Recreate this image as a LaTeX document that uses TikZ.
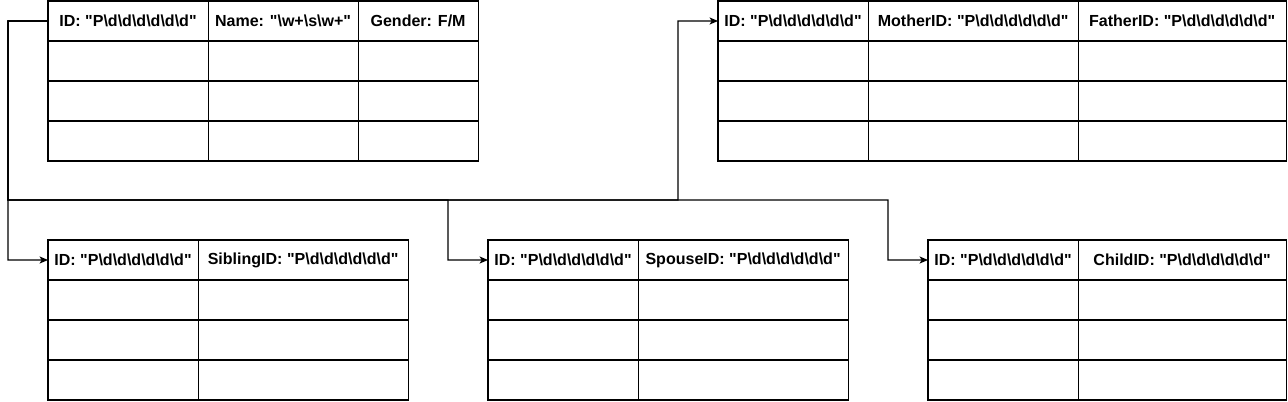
\documentclass[tikz,border=0pt]{standalone}
\usepackage{fontspec}
\setmainfont{Liberation Sans}
\usetikzlibrary{positioning,arrows.meta}

% Regex patterns used in the headers
\newcommand{\bs}{\textbackslash}
\newcommand{\dq}{\textquotedbl}
\newcommand{\regexid}{\dq P\bs d\bs d\bs d\bs d\bs d\bs d\dq}

\begin{document}
\begin{tikzpicture}[x=0.025cm,y=-0.025cm,line width=0.75pt,
    cell/.style={draw,outer sep=0pt,inner sep=0pt,minimum height=1cm,
        anchor=north west,font=\bfseries\fontsize{11.4}{13}\selectfont},
    link/.style={-{Stealth[length=6pt,width=5pt,inset=1.5pt]}}
]
\useasboundingbox (0,0) rectangle (1288,401);

% Person table
\node[cell,minimum width=4cm] (p-id) at (48,1) {ID: \regexid};
\node[cell,minimum width=3.75cm,right=0pt of p-id] (p-name) {Name: \dq\bs w+\bs s\bs w+\dq};
\node[cell,minimum width=3cm,right=0pt of p-name] (p-gender) {Gender: F/M};
\foreach \r in {1,2,3}{
    \node[cell,minimum width=4cm] (p-id-\r) at (48,1+40*\r) {};
    \node[cell,minimum width=3.75cm,right=0pt of p-id-\r] (p-name-\r) {};
    \node[cell,minimum width=3cm,right=0pt of p-name-\r] (p-gender-\r) {};
}

% Parents table
\node[cell,minimum width=3.75cm] (pa-id) at (718,1) {ID: \regexid};
\node[cell,minimum width=5.25cm,right=0pt of pa-id] (pa-mother) {MotherID: \regexid};
\node[cell,minimum width=5.2cm,right=0pt of pa-mother] (pa-father) {FatherID: \regexid};
\foreach \r in {1,2,3}{
    \node[cell,minimum width=3.75cm] (pa-id-\r) at (718,1+40*\r) {};
    \node[cell,minimum width=5.25cm,right=0pt of pa-id-\r] (pa-mother-\r) {};
    \node[cell,minimum width=5.2cm,right=0pt of pa-mother-\r] (pa-father-\r) {};
}

% Sibling, spouse and child tables
\foreach \t/\x/\w/\lbl in {s/48/5.25/SiblingID,sp/488/5.25/SpouseID,c/928/5.2/ChildID}{
    \node[cell,minimum width=3.75cm] (\t-id) at (\x,240) {ID: \regexid};
    \node[cell,minimum width=\w cm,right=0pt of \t-id] (\t-ref) {\lbl: \regexid};
    \foreach \r in {1,2,3}{
        \node[cell,minimum width=3.75cm] (\t-id-\r) at (\x,240+40*\r) {};
        \node[cell,minimum width=\w cm,right=0pt of \t-id-\r] (\t-ref-\r) {};
    }
}

% Connectors
\coordinate (bus-left) at (8,21);
\coordinate (bus-sp) at (448,200);
\coordinate (bus-pa) at (678,200);
\coordinate (bus-c) at (888,200);
\draw[link] (p-id.west) -- (bus-left) |- (s-id.west);
\draw[link] (p-id.west) -- (bus-left) |- (bus-sp) |- (sp-id.west);
\draw[link] (p-id.west) -- (bus-left) |- (bus-pa) |- (pa-id.west);
\draw[link] (p-id.west) -- (bus-left) |- (bus-c) |- (c-id.west);
\end{tikzpicture}
\end{document}
